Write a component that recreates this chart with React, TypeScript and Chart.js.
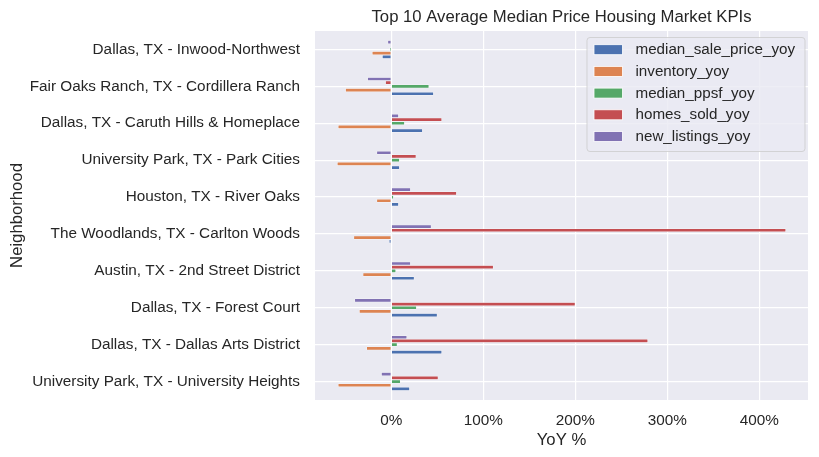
import React, { useEffect, useRef } from "react";
import { Chart, registerables } from "chart.js";

Chart.register(...registerables);

const categories = [
  "Dallas, TX - Inwood-Northwest",
  "Fair Oaks Ranch, TX - Cordillera Ranch",
  "Dallas, TX - Caruth Hills & Homeplace",
  "University Park, TX - Park Cities",
  "Houston, TX - River Oaks",
  "The Woodlands, TX - Carlton Woods",
  "Austin, TX - 2nd Street District",
  "Dallas, TX - Forest Court",
  "Dallas, TX - Dallas Arts District",
  "University Park, TX - University Heights",
];

const medianSalePriceYoy = [-10, 46, 34, 9, 8, -2.5, 25, 50, 55, 20];
const inventoryYoy = [-21, -50, -58, -59, -16, -41, -31, -35, -27, -58];
const medianPpsfYoy = [-2, 41, 14.5, 9, 2.5, 1, 5, 27.5, 6.5, 10];
const homesSoldYoy = [0, -6.5, 55, 27, 71, 429, 111, 200, 279, 51];
const newListingsYoy = [-4, -26, 8, -16, 21, 43.5, 21, -40, 17, -11];

const xTicks = [0, 100, 200, 300, 400];

const seriesNames = [
  "median_sale_price_yoy",
  "inventory_yoy",
  "median_ppsf_yoy",
  "homes_sold_yoy",
  "new_listings_yoy",
];
const seriesValues = [medianSalePriceYoy, inventoryYoy, medianPpsfYoy, homesSoldYoy, newListingsYoy];
const seriesColors = ["#4C72B0", "#DD8452", "#55A868", "#C44E52", "#8172B3"];

const FONT = "'Liberation Sans', Arial, sans-serif";
const TEXT = "#262626";

export default function App() {
  const ref = useRef<HTMLCanvasElement | null>(null);

  useEffect(() => {
    if (!ref.current) return;
    // dataset 0 is drawn at the top of each group in Chart.js, so reverse
    const datasets = seriesNames
      .map((name, i) => ({
        label: name,
        data: seriesValues[i],
        backgroundColor: seriesColors[i],
        borderColor: "#ffffff",
        borderWidth: 0.5,
        categoryPercentage: 0.5,
        barPercentage: 1.0,
      }))
      .reverse();

    const bgPlugin = {
      id: "bg",
      beforeDraw(chart: any) {
        const { ctx, chartArea } = chart;
        ctx.save();
        ctx.fillStyle = "#EAEAF2";
        ctx.fillRect(chartArea.left, chartArea.top, chartArea.right - chartArea.left, chartArea.bottom - chartArea.top);
        ctx.restore();
      },
      afterDraw(chart: any) {
        const { ctx, chartArea } = chart;
        ctx.save();
        // title
        ctx.fillStyle = TEXT;
        ctx.font = `16.7px ${FONT}`;
        ctx.textAlign = "center";
        ctx.textBaseline = "middle";
        ctx.fillText("Top 10 Average Median Price Housing Market KPIs", (chartArea.left + chartArea.right) / 2, 17);
        // legend
        const lx = 587, ly = 37.5, lw = 218, lh = 114;
        const r = 3;
        ctx.beginPath();
        ctx.moveTo(lx + r, ly);
        ctx.lineTo(lx + lw - r, ly);
        ctx.quadraticCurveTo(lx + lw, ly, lx + lw, ly + r);
        ctx.lineTo(lx + lw, ly + lh - r);
        ctx.quadraticCurveTo(lx + lw, ly + lh, lx + lw - r, ly + lh);
        ctx.lineTo(lx + r, ly + lh);
        ctx.quadraticCurveTo(lx, ly + lh, lx, ly + lh - r);
        ctx.lineTo(lx, ly + r);
        ctx.quadraticCurveTo(lx, ly, lx + r, ly);
        ctx.closePath();
        ctx.fillStyle = "rgba(234,234,242,0.8)";
        ctx.fill();
        ctx.strokeStyle = "rgba(204,204,204,0.8)";
        ctx.lineWidth = 1;
        ctx.stroke();
        ctx.font = `15.2px ${FONT}`;
        ctx.textAlign = "left";
        ctx.textBaseline = "middle";
        seriesNames.forEach((name, i) => {
          const cy = 49.7 + i * 21.7;
          ctx.fillStyle = seriesColors[i];
          ctx.fillRect(594, cy - 5, 28.5, 10);
          ctx.strokeStyle = "#ffffff";
          ctx.lineWidth = 0.8;
          ctx.strokeRect(594, cy - 5, 28.5, 10);
          ctx.fillStyle = TEXT;
          ctx.fillText(name, 635.5, cy + 0.5);
        });
        ctx.restore();
      },
    };

    const chart = new Chart(ref.current, {
      type: "bar",
      data: { labels: categories, datasets },
      options: {
        indexAxis: "y",
        animation: false,
        responsive: false,
        devicePixelRatio: 1,
        layout: { padding: { top: 31, right: 11, left: 0, bottom: 0 } },
        plugins: {
          legend: { display: false },
          title: { display: false },
          tooltip: { enabled: false },
        },
        scales: {
          x: {
            type: "linear",
            min: -83,
            max: 453,
            afterBuildTicks(scale: any) {
              scale.ticks = xTicks.map((v) => ({ value: v }));
            },
            afterFit(scale: any) {
              scale.height = 57;
            },
            grid: { color: "#ffffff", lineWidth: 1.2, drawTicks: false },
            border: { display: false },
            ticks: {
              padding: 12,
              color: TEXT,
              font: { family: FONT, size: 15.3 },
              callback: (v: any) => `${v}%`,
            },
            title: {
              display: true,
              text: "YoY %",
              color: TEXT,
              font: { family: FONT, size: 16.7 },
              padding: { top: 8, bottom: 7 },
            },
          },
          y: {
            type: "category",
            offset: true,
            afterFit(scale: any) {
              scale.width = 315;
            },
            grid: { color: "#ffffff", lineWidth: 1.2, drawTicks: false, offset: false },
            border: { display: false },
            ticks: {
              padding: 15,
              color: TEXT,
              font: { family: FONT, size: 15.3 },
            },
            title: {
              display: true,
              text: "Neighborhood",
              color: TEXT,
              font: { family: FONT, size: 16.7 },
              padding: { top: 7, bottom: 0 },
            },
          },
        },
      },
      plugins: [bgPlugin],
    } as any);

    return () => chart.destroy();
  }, []);

  return (
    <div style={{ position: "fixed", left: 0, top: 0, width: 819, height: 457, background: "#ffffff" }}>
      <canvas ref={ref} width={819} height={457} style={{ display: "block" }} />
    </div>
  );
}
